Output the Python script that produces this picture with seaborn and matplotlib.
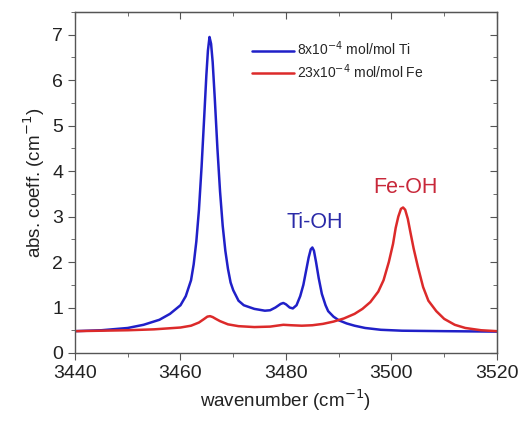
import matplotlib
matplotlib.use("Agg")
import matplotlib.pyplot as plt
from matplotlib.ticker import MultipleLocator
import seaborn as sns
import pandas as pd

# Blue: 8x10^-4 mol/mol Ti
ti_x = [3440, 3445, 3450, 3453, 3456, 3458, 3460, 3461, 3462, 3462.5, 3463, 3463.5,
        3464, 3464.5, 3464.9, 3465.2, 3465.5, 3465.8, 3466.1, 3466.5, 3467, 3467.5,
        3468, 3468.5, 3469, 3469.5, 3470, 3471, 3472, 3474, 3476, 3477, 3478, 3479,
        3479.5, 3480, 3480.7, 3481.3, 3482, 3482.7, 3483.3, 3483.8, 3484.3, 3484.7,
        3485, 3485.3, 3485.7, 3486.2, 3486.8, 3487.5, 3488, 3489, 3490, 3491.5,
        3493, 3495, 3498, 3502, 3510, 3520]
ti_y = [0.48, 0.50, 0.55, 0.62, 0.73, 0.86, 1.05, 1.25, 1.60, 1.95, 2.45, 3.15,
        4.10, 5.20, 6.10, 6.65, 6.95, 6.80, 6.40, 5.60, 4.50, 3.55,
        2.80, 2.25, 1.85, 1.55, 1.38, 1.15, 1.05, 0.97, 0.93, 0.94, 1.00, 1.08,
        1.10, 1.07, 1.00, 0.98, 1.05, 1.25, 1.50, 1.80, 2.10, 2.28,
        2.32, 2.25, 2.00, 1.65, 1.30, 1.05, 0.92, 0.80, 0.72, 0.65,
        0.60, 0.55, 0.51, 0.49, 0.48, 0.47]

# Red: 23x10^-4 mol/mol Fe
fe_x = [3440, 3450, 3455, 3460, 3462, 3463.5, 3464.5, 3465.1, 3465.6, 3466.1, 3466.7,
        3467.5, 3469, 3471, 3474, 3477, 3479.5, 3481, 3483, 3485, 3487, 3489, 3491,
        3493, 3494.5, 3496, 3497.5, 3498.5, 3499.5, 3500.3, 3500.8, 3501.3, 3501.8,
        3502.2, 3502.6, 3503.1, 3503.6, 3504.2, 3505, 3506, 3507, 3508.5, 3510,
        3512, 3514, 3517, 3520]
fe_y = [0.48, 0.50, 0.52, 0.56, 0.60, 0.67, 0.75, 0.80, 0.81, 0.79, 0.75,
        0.70, 0.63, 0.59, 0.57, 0.58, 0.62, 0.61, 0.60, 0.61, 0.64, 0.69, 0.76,
        0.86, 0.97, 1.12, 1.35, 1.60, 2.00, 2.40, 2.75, 3.00, 3.17,
        3.20, 3.15, 2.95, 2.65, 2.30, 1.90, 1.45, 1.15, 0.92, 0.75,
        0.62, 0.55, 0.50, 0.48]

labels = ["8x10$^{-4}$ mol/mol Ti", "23x10$^{-4}$ mol/mol Fe"]
colors = ["#2020c8", "#dc2a2a"]

df = pd.concat([
    pd.DataFrame({"x": ti_x, "y": ti_y, "s": labels[0]}),
    pd.DataFrame({"x": fe_x, "y": fe_y, "s": labels[1]}),
])

sns.set_style("white")
plt.rcParams["font.family"] = ["Liberation Sans", "DejaVu Sans"]

fig = plt.figure(figsize=(5.22, 4.26), dpi=100)
ax = fig.add_axes([0.1437, 0.1714, 0.8083, 0.8005])

sns.lineplot(data=df, x="x", y="y", hue="s", palette=colors, linewidth=1.8,
             ax=ax, estimator=None, sort=True)

ax.set_xlim(3440, 3520)
ax.set_ylim(0, 7.5)
ax.xaxis.set_major_locator(MultipleLocator(20))
ax.xaxis.set_minor_locator(MultipleLocator(10))
ax.yaxis.set_major_locator(MultipleLocator(1))
ax.yaxis.set_minor_locator(MultipleLocator(0.5))
ax.tick_params(which="both", direction="out", top=False, right=False,
               bottom=True, left=True, color="#555555")
ax.tick_params(which="major", length=5, labelsize=14, labelcolor="#222222")
ax.tick_params(which="minor", length=3)
# inward ticks on top/right
axt = ax.secondary_xaxis("top")
axt.xaxis.set_major_locator(MultipleLocator(20))
axt.xaxis.set_minor_locator(MultipleLocator(10))
axt.tick_params(which="both", direction="in", labeltop=False, color="#555555")
axt.tick_params(which="major", length=5)
axt.tick_params(which="minor", length=3)
axr = ax.secondary_yaxis("right")
axr.yaxis.set_major_locator(MultipleLocator(1))
axr.yaxis.set_minor_locator(MultipleLocator(0.5))
axr.tick_params(which="both", direction="in", labelright=False, color="#555555")
axr.tick_params(which="major", length=5)
axr.tick_params(which="minor", length=3)

for sp in ax.spines.values():
    sp.set_color("#555555")
    sp.set_linewidth(1.0)

ax.set_xlabel("wavenumber (cm$^{-1}$)", fontsize=13.5, color="#222222")
ax.set_ylabel("abs. coeff. (cm$^{-1}$)", fontsize=13.5, color="#222222")

leg = ax.legend(loc="upper left", bbox_to_anchor=(0.39, 0.955), frameon=False,
                fontsize=10, handlelength=3.0, handletextpad=0.2, labelspacing=0.3)
for line in leg.get_lines():
    line.set_linewidth(1.8)

ax.text(3485.5, 2.86, "Ti-OH", color="#2a2aa8", fontsize=15.5, ha="center", va="center")
ax.text(3502.6, 3.63, "Fe-OH", color="#c8283a", fontsize=15.5, ha="center", va="center")

fig.savefig("out.png", dpi=100)
